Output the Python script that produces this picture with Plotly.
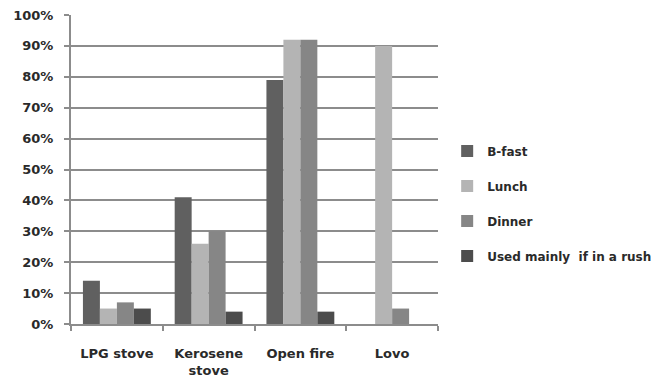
import plotly.graph_objects as go

categories = ["LPG stove", "Kerosene<br>stove", "Open fire", "Lovo"]
bfast = [0.14, 0.41, 0.79, 0.0]
lunch = [0.05, 0.26, 0.92, 0.90]
dinner = [0.07, 0.30, 0.92, 0.05]
rush = [0.05, 0.04, 0.04, 0.0]

series = [
    ("B-fast", bfast, "#606060"),
    ("Lunch", lunch, "#b4b4b4"),
    ("Dinner", dinner, "#868686"),
    ("Used mainly  if in a rush", rush, "#4c4c4c"),
]

fig = go.Figure()
for i, (name, vals, col) in enumerate(series):
    fig.add_trace(go.Bar(
        x=categories, y=vals, name=name, marker_color=col,
        marker_line_width=0, legendgroup=f"g{i}",
    ))

txt = dict(family="DejaVu Sans, Arial, sans-serif", size=13, color="#2a2a2a", weight="bold")
legtxt = dict(family="DejaVu Sans, Arial, sans-serif", size=12, color="#2a2a2a", weight="bold")

fig.update_layout(
    width=663, height=385,
    margin=dict(l=71, r=225, t=15, b=61, autoexpand=False),
    paper_bgcolor="white", plot_bgcolor="white",
    barmode="group", bargap=0.26, bargroupgap=0.0,
    font=txt,
    showlegend=True,
    legend=dict(
        x=1.025, xanchor="left", y=0.39, yanchor="middle",
        traceorder="grouped", tracegroupgap=16,
        font=legtxt, itemwidth=30,
    ),
    xaxis=dict(
        showline=True, linecolor="#8c8c8c", linewidth=2,
        ticks="outside", tickson="boundaries", ticklen=5, tickcolor="#8c8c8c", tickwidth=2,
        showgrid=False, ticklabelstandoff=16,
        tickfont=txt,
    ),
    yaxis=dict(
        range=[0, 1.0], tickmode="linear", tick0=0, dtick=0.1, tickformat=".0%",
        showline=True, linecolor="#8c8c8c", linewidth=2,
        ticks="outside", ticklen=5, tickcolor="#8c8c8c", tickwidth=2,
        showgrid=True, gridcolor="#8c8c8c", gridwidth=2,
        zeroline=False, ticklabelstandoff=8,
        tickfont=txt,
    ),
)

fig.write_html("out.html")
